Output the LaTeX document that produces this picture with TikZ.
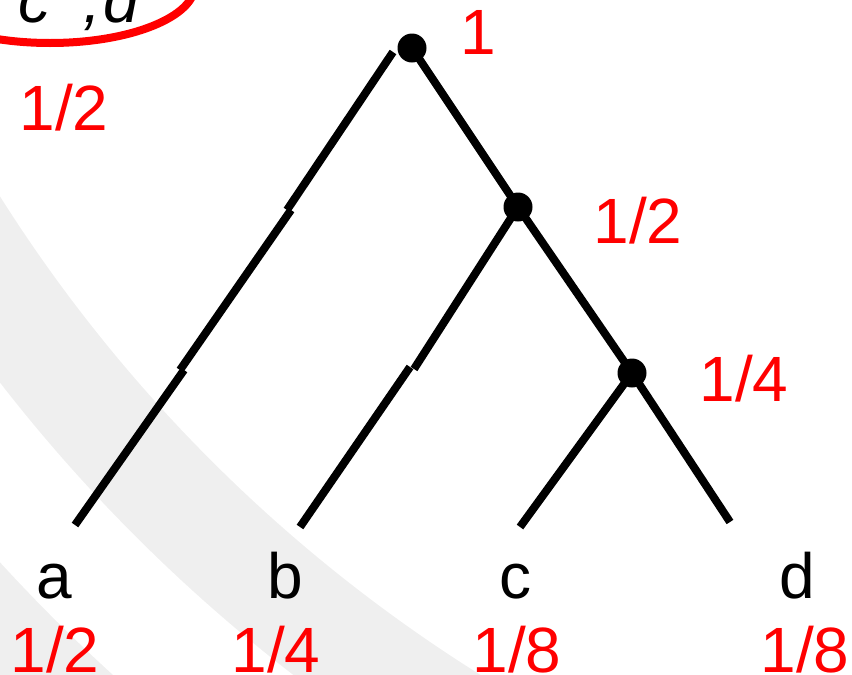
\documentclass[tikz,border=0pt]{standalone}
\usepackage{fontspec}
\setmainfont{Liberation Sans}
\definecolor{bandgray}{HTML}{EFEFEF}
\definecolor{lblred}{HTML}{FF0000}
\begin{document}
\begin{tikzpicture}[x=1pt,y=-1pt,
  edge/.style={line width=8pt},
  dot/.style={circle,fill=black,inner sep=0pt,minimum size=29pt},
  lbl/.style={font=\fontsize{64}{64}\selectfont, inner sep=0pt, anchor=base},
  prob/.style={lbl, text=lblred}]
\useasboundingbox (0,0) rectangle (852,675);
\begin{scope}
  \clip (0,0) rectangle (852,675);
  \fill[bandgray,even odd rule] (1284.5,-612.9) circle[radius=1625] (1284.5,-612.9) circle[radius=1518];
  \fill[bandgray,even odd rule] (1284.5,-612.9) circle[radius=1741] (-100,-100) rectangle (952,775);
  \draw[lblred,line width=8pt] (50,-15) ellipse[x radius=145,y radius=58];
  \node[lbl,font=\fontsize{64}{64}\selectfont\itshape,anchor=base west] (cd) at (18,22) {c'\kern19pt,\kern2pt d'};
\end{scope}
% internal nodes
\node[dot] (r) at (412,48) {};
\node[dot] (n2) at (518,207) {};
\node[dot] (n3) at (632,373) {};
% leaf ends and jog points
\coordinate (rl) at (393,52);
\coordinate (j1a) at (287,210);
\coordinate (j1b) at (291,210);
\coordinate (j2a) at (180,370);
\coordinate (j2b) at (184,370);
\coordinate (la) at (75,525);
\coordinate (j3a) at (414,369);
\coordinate (j3b) at (410,367);
\coordinate (lb) at (300,527);
\coordinate (lc) at (520,527);
\coordinate (ld) at (730,522);
% edges
\draw[edge] (rl) -- (j1a);
\draw[edge] (j1b) -- (j2a);
\draw[edge] (j2b) -- (la);
\draw[edge] (r.center) -- (n2.center) -- (n3.center) -- (ld);
\draw[edge] (n2.center) -- (j3a);
\draw[edge] (j3b) -- (lb);
\draw[edge] (n3.center) -- (lc);
% labels
\node[prob] (p0) at (64,130) {1/2};
\node[prob] (pr) at (478,54) {1};
\node[prob] (p2) at (638,243) {1/2};
\node[prob] (p3) at (744,401) {1/4};
\node[lbl] (ta) at (54,598) {a};
\node[lbl] (tb) at (285,598) {b};
\node[lbl] (tc) at (515,598) {c};
\node[lbl] (td) at (797,598) {d};
\node[prob] (pa) at (55,672) {1/2};
\node[prob] (pb) at (276,672) {1/4};
\node[prob] (pc) at (517,672) {1/8};
\node[prob] (pd) at (805,672) {1/8};
\end{tikzpicture}
\end{document}
